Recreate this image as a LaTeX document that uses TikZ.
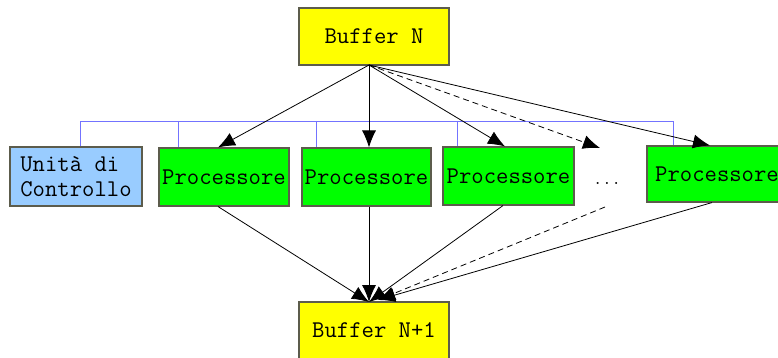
\documentclass[tikz,border=0pt]{standalone}
\usepackage{fontspec}
\usetikzlibrary{arrows.meta}
\definecolor{boxyellow}{HTML}{FFFF00}
\definecolor{boxgreen}{HTML}{00FF00}
\definecolor{boxblue}{HTML}{99CCFF}
\definecolor{busblue}{HTML}{7373FF}
\definecolor{edge}{HTML}{5C5C4C}
\newcommand{\boxfont}{\ttfamily\fontsize{24}{24.5}\selectfont}
\begin{document}
\begin{tikzpicture}[x=1pt,y=-1pt,
  box/.style={draw=edge,line width=1.1pt,inner sep=0pt,font=\boxfont},
  buf/.style={box,fill=boxyellow},
  proc/.style={box,fill=boxgreen},
  ctrl/.style={box,fill=boxblue},
  bus/.style={draw=busblue,line width=0.9pt},
  arr/.style={draw=black,line width=0.8pt,-{Latex[length=17pt,width=14pt]}},
  darr/.style={arr,dash pattern=on 6pt off 4pt}]
\useasboundingbox (0,0) rectangle (778,358);
\clip (0,0) rectangle (778,358);
% boxes
\node[buf,minimum width=150pt,minimum height=57pt] (bn) at (374,36.5) {Buffer N};
\node[buf,minimum width=150pt,minimum height=70pt] (bn1) at (374,337) {};
\node[font=\boxfont] (bn1t) at (374,330) {Buffer N+1};
\node[ctrl,minimum width=132pt,minimum height=59pt,align=left] (ctrl) at (76,176.5) {Unità di\\Controllo};
\node[proc,minimum width=130pt,minimum height=58pt] (p1) at (224,177) {Processore};
\node[proc,minimum width=129pt,minimum height=58pt] (p2) at (366.5,177) {Processore};
\node[proc,minimum width=131pt,minimum height=58pt] (p3) at (508.5,176) {Processore};
\node[font=\ttfamily\fontsize{18}{20}\selectfont] (dots) at (607,183) {...};
\node[proc,minimum width=140pt,minimum height=56pt] (p5) at (717,174) {Processore};
% bus
\coordinate (b0) at (80,121);
\coordinate (b1) at (673,121);
\draw[bus] (ctrl.north -| b0) -- (b0) -- (b1) -- (p5.north -| b1);
\draw[bus] (178,121) -- (p1.north -| 178,0);
\draw[bus] (316,121) -- (p2.north -| 316,0);
\draw[bus] (457,121) -- (p3.north -| 457,0);
% top arrows
\coordinate (src) at (369,65);
\coordinate (dtop) at (600,148);
\coordinate (dbot) at (605,207);
\draw[arr] (src) -- (p1.north -| 218,0);
\draw[arr] (src) -- (p2.north -| 369,0);
\draw[arr] (src) -- (p3.north -| 505,0);
\draw[darr] (src) -- (dtop);
\draw[arr] (src) -- (p5.north -| 710,0);
% bottom arrows
\coordinate (t1) at (369,302);
\coordinate (t2) at (378,300);
\draw[arr] (p1.south -| 218,0) -- (t1);
\draw[arr] (p2.south -| 369,0) -- (t1);
\draw[arr] (p3.south -| 503,0) -- (t1);
\draw[darr] (dbot) -- (t2);
\draw[arr] (p5.south -| 712,0) -- (t2);
\end{tikzpicture}
\end{document}
